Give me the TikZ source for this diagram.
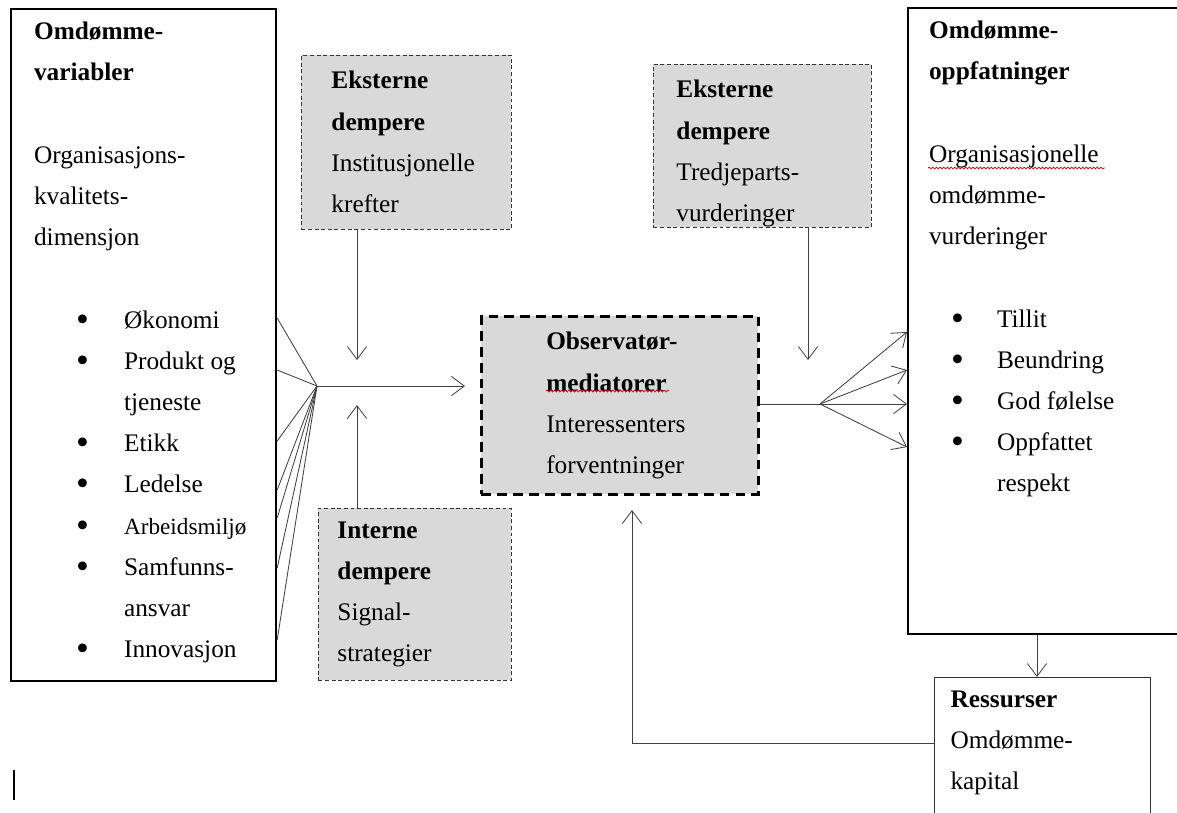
\documentclass[tikz,border=0pt]{standalone}
\usepackage{fontspec}
\setmainfont{Liberation Serif}
\usetikzlibrary{arrows.meta,decorations.pathmorphing}

\newcommand{\boxbody}[3]{\parbox[c][#2][t]{#1}{\fontsize{18}{29.3}\selectfont\raggedright #3}}
\newcommand{\dotmark}{\raisebox{-0.12em}{\scalebox{1.45}{\textbullet}}}
\newcommand{\litem}[1]{\hspace*{1.05cm}\makebox[1.2cm][l]{\dotmark}#1}
\newcommand{\lcont}[1]{\hspace*{2.25cm}#1}
\newcommand{\ritem}[1]{\hspace*{.55cm}\makebox[1.15cm][l]{\dotmark}#1}
\newcommand{\rcont}[1]{\hspace*{1.7cm}#1}

\tikzset{
  mainbox/.style={draw, line width=1.5pt, anchor=north west},
  resbox/.style={draw=black!80, line width=0.8pt, anchor=north west},
  dampbox/.style={draw=black!80, line width=0.6pt, dash pattern=on 2.8pt off 1.9pt, fill=black!15, anchor=north west},
  obsbox/.style={draw, line width=1.8pt, dash pattern=on 7pt off 4.3pt, fill=black!15, anchor=north west},
  link/.style={draw=black!75, line width=0.6pt},
  arr/.style={link, -{Straight Barb[length=3.2mm,width=4.8mm]}},
  squiggle/.style={draw=red!85!black, line width=0.5pt, decorate, decoration={snake, amplitude=0.7pt, segment length=2.6pt}}
}

\begin{document}
\begin{tikzpicture}[x=0.025cm, y=-0.025cm]
\useasboundingbox (0,0) rectangle (1177,812);

% boxes
\node[mainbox, inner xsep=.575cm, inner ysep=.325cm] (var) at (10,8) {\boxbody{5.475cm}{16.15cm}{%
\textbf{Omdømme-}\\
\textbf{variabler}\\
\mbox{}\\
Organisasjons-\\
kvalitets-\\
dimensjon\\
\mbox{}\\
\litem{Økonomi}\\
\litem{Produkt og}\\
\lcont{tjeneste}\\
\litem{Etikk}\\
\litem{Ledelse}\\
\litem{{\fontsize{16.5}{29.3}\selectfont Arbeidsmiljø}}\\
\litem{Samfunns-}\\
\lcont{ansvar}\\
\litem{Innovasjon}}};

\node[dampbox, inner xsep=.75cm, inner ysep=.4cm] (ext1) at (301,55) {\boxbody{3.75cm}{3.55cm}{%
\textbf{Eksterne}\\
\textbf{dempere}\\
Institusjonelle\\
krefter}};

\node[dampbox, inner xsep=.575cm, inner ysep=.4cm] (ext2) at (653,64) {\boxbody{4.3cm}{3.275cm}{%
\textbf{Eksterne}\\
\textbf{dempere}\\
Tredjeparts-\\
vurderinger}};

\node[obsbox, inner xsep=1.625cm, inner ysep=.4cm] (obs) at (480,315) {\boxbody{3.675cm}{3.65cm}{%
\textbf{Observatør-}\\
\textbf{mediatorer}\\
Interessenters\\
forventninger}};

\node[dampbox, inner xsep=.475cm, inner ysep=.325cm] (intd) at (318,508) {\boxbody{3.875cm}{3.65cm}{%
\textbf{Interne}\\
\textbf{dempere}\\
Signal-\\
strategier}};

\node[mainbox, inner xsep=.525cm, inner ysep=.325cm] (opp) at (907,7) {\boxbody{6.2cm}{15cm}{%
\textbf{Omdømme-}\\
\textbf{oppfatninger}\\
\mbox{}\\
Organisasjonelle\\
omdømme-\\
vurderinger\\
\mbox{}\\
\ritem{Tillit}\\
\ritem{Beundring}\\
\ritem{God følelse}\\
\ritem{Oppfattet}\\
\rcont{respekt}}};

\node[resbox, inner xsep=.4cm, inner ysep=.325cm] (res) at (934,677) {\boxbody{4.6cm}{3.35cm}{%
\textbf{Ressurser}\\
Omdømme-\\
kapital}};

% spell check marks
\draw[squiggle] (546,391) -- (669,391);
\draw[squiggle] (928,168) -- (1105,168);

% hubs and free arrow ends
\coordinate (hubin) at (317,386);
\coordinate (hubout) at (820,404);
\coordinate (tipext1) at (357,360);
\coordinate (tipintd) at (357,405);
\coordinate (tipext2) at (808,360);
\coordinate (tipres) at (632,510);

% connectors
\foreach \y in {318,370,441,490,518,568,640}
  \draw[link] (var.north east |- 0,\y) -- (hubin);
\draw[arr, shorten >=0.375cm] (hubin) -- (hubin -| obs.west);
\draw[arr] (ext1.south -| tipext1) -- (tipext1);
\draw[arr] (intd.north -| tipintd) -- (tipintd);
\draw[arr] (ext2.south -| tipext2) -- (tipext2);
\draw[link] (obs.east |- hubout) -- (hubout);
\foreach \y in {332,370,404,447}
  \draw[arr] (hubout) -- (opp.west |- 0,\y);
\draw[arr] (opp.south -| 1037,0) -- (res.north -| 1037,0);
\draw[arr] (res.west |- 0,743) -| (tipres);

\draw[line width=1pt] (14,770) -- (14,800);
\end{tikzpicture}
\end{document}
